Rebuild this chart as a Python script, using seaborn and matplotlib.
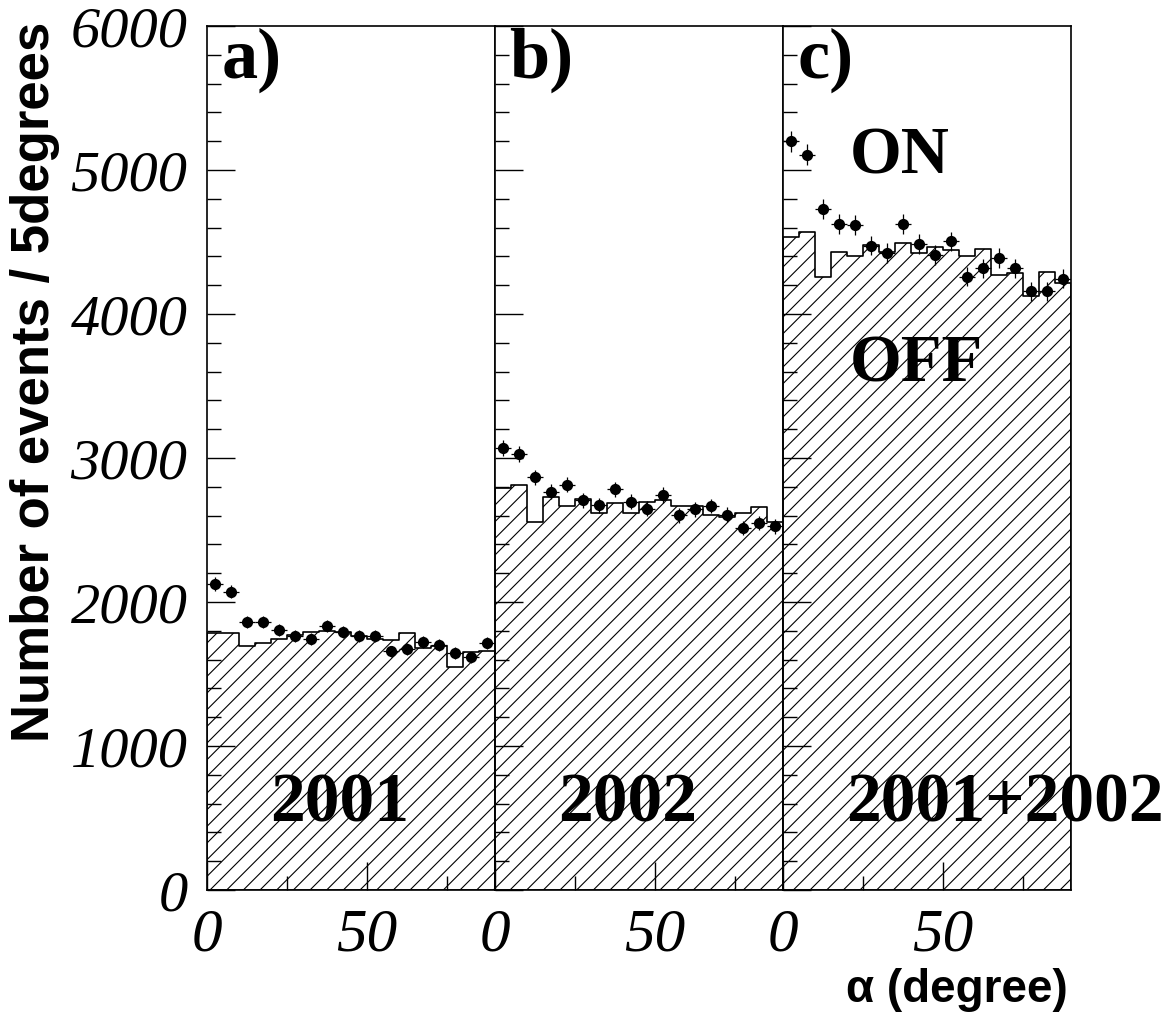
import numpy as np
import pandas as pd
import seaborn as sns
import matplotlib
matplotlib.use("Agg")
import matplotlib.pyplot as plt
from matplotlib.ticker import MultipleLocator

# alpha bins, 5 degrees wide
bin_edges = list(range(0, 95, 5))
bin_centers = [e + 2.5 for e in bin_edges[:-1]]

# ON points and OFF histogram
on_2001 = [2125, 2071, 1861, 1861, 1803, 1762, 1743, 1833, 1794, 1764, 1764, 1657, 1676, 1722, 1704, 1644, 1616, 1717]
off_2001 = [1787, 1782, 1696, 1713, 1740, 1771, 1794, 1799, 1792, 1764, 1740, 1736, 1787, 1678, 1694, 1551, 1650, 1660]
on_2002 = [3072, 3030, 2866, 2766, 2815, 2708, 2671, 2782, 2697, 2648, 2743, 2602, 2643, 2667, 2606, 2514, 2549, 2525]
off_2002 = [2790, 2812, 2553, 2731, 2669, 2715, 2620, 2685, 2616, 2691, 2708, 2667, 2667, 2604, 2588, 2615, 2661, 2558]
on_all = [5199, 5106, 4727, 4627, 4618, 4474, 4424, 4623, 4486, 4410, 4505, 4259, 4317, 4389, 4317, 4157, 4157, 4245]
off_all = [4532, 4572, 4259, 4433, 4403, 4479, 4433, 4490, 4424, 4463, 4444, 4400, 4454, 4271, 4282, 4125, 4294, 4218]

panel_tags = ["a)", "b)", "c)"]
year_labels = ["2001", "2002", "2001+2002"]
y_ticks = [0, 1000, 2000, 3000, 4000, 5000, 6000]
x_ticks = [0, 50]

sns.set_theme(style="ticks")
plt.rcParams["font.family"] = ["Liberation Serif", "DejaVu Serif"]
plt.rcParams["hatch.linewidth"] = 0.8
plt.rcParams["text.color"] = "black"
plt.rcParams["xtick.color"] = "black"
plt.rcParams["ytick.color"] = "black"
plt.rcParams["xtick.labelcolor"] = "black"
plt.rcParams["ytick.labelcolor"] = "black"

fig = plt.figure(figsize=(11.74, 10.21), dpi=100)
left, bottom, w, h = 207 / 1174, 131 / 1021, 288 / 1174, 864 / 1021

panels = [(on_2001, off_2001), (on_2002, off_2002), (on_all, off_all)]
for i, (on, off) in enumerate(panels):
    ax = fig.add_axes([left + i * w, bottom, w, h])
    df = pd.DataFrame({"alpha": bin_centers, "on": on, "off": off})

    # OFF: hatched step histogram
    sns.histplot(data=df, x="alpha", weights="off", bins=bin_edges, element="step",
                 fill=True, color="black", facecolor="none", edgecolor="black", hatch="//",
                 linewidth=1.2, legend=False, ax=ax)

    # ON: points with error bars
    ax.errorbar(df["alpha"], df["on"], xerr=2.5, yerr=np.sqrt(df["on"]),
                fmt="none", ecolor="black", elinewidth=0.9, capsize=0, zorder=3)
    sns.scatterplot(data=df, x="alpha", y="on", color="black", s=65,
                    edgecolor="black", linewidth=0, zorder=4, ax=ax)

    ax.set_xlim(0, 90)
    ax.set_ylim(0, 6000)
    ax.set_xlabel("")
    ax.set_ylabel("")
    ax.set_xticks(x_ticks)
    ax.set_xticklabels([str(t) for t in x_ticks], fontsize=44, style="italic")
    ax.xaxis.set_minor_locator(MultipleLocator(25))
    ax.set_yticks(y_ticks)
    ax.yaxis.set_minor_locator(MultipleLocator(200))
    if i == 0:
        ax.set_yticklabels([str(t) for t in y_ticks], fontsize=42, style="italic")
    else:
        ax.set_yticklabels([])
    ax.tick_params(axis="both", which="major", direction="in", length=20, width=1,
                   color="black", top=False, right=False)
    ax.tick_params(axis="both", which="minor", direction="in", length=10, width=1,
                   color="black", top=False, right=False)
    ax.tick_params(axis="x", which="major", pad=13)
    ax.tick_params(axis="y", which="major", pad=14)
    for sp in ax.spines.values():
        sp.set_visible(True)
        sp.set_color("black")
        sp.set_linewidth(1.2)

    ax.text(0.05, 0.998, panel_tags[i], transform=ax.transAxes, fontsize=52,
            fontweight="bold", ha="left", va="top")
    ax.text(0.22, 0.079, year_labels[i], transform=ax.transAxes, fontsize=50,
            fontweight="bold", ha="left", va="baseline", clip_on=False)
    if i == 2:
        ax.text(0.233, 5090, "ON", fontsize=48, fontweight="bold", ha="left", va="center",
                transform=ax.get_yaxis_transform())
        ax.text(0.233, 3646, "OFF", fontsize=48, fontweight="bold", ha="left", va="center",
                transform=ax.get_yaxis_transform())

fig.text(35 / 1174, 1 - 22 / 1021, "Number of events / 5degrees", rotation=90,
         fontsize=38, fontweight="bold", ha="center", va="top",
         family=["Liberation Sans", "DejaVu Sans"])
fig.text(1068 / 1174, 1 - 990 / 1021, "\u03b1 (degree)", fontsize=33, fontweight="bold",
         ha="right", va="center", family=["Liberation Sans", "DejaVu Sans"])

fig.savefig("out.png", dpi=100, facecolor="white")
